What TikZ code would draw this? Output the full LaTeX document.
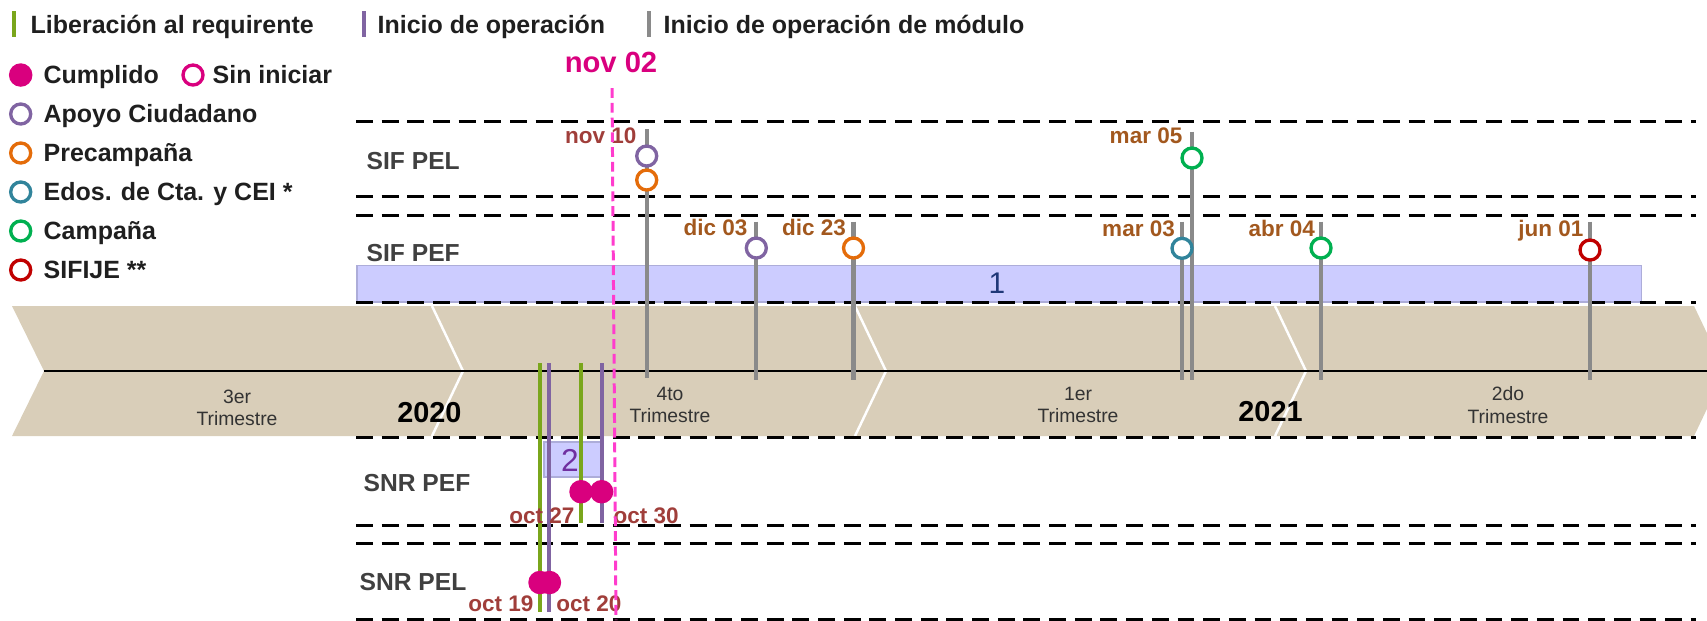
\documentclass[tikz,border=0pt]{standalone}
\usepackage{fontspec}
\setmainfont{Liberation Sans}
\usetikzlibrary{positioning,shapes.geometric}
\definecolor{cumplidoc}{RGB}{217,0,126}
\definecolor{cortec}{RGB}{255,60,205}
\definecolor{apoyoc}{RGB}{128,100,162}
\definecolor{precampc}{RGB}{228,108,10}
\definecolor{edosc}{RGB}{49,132,155}
\definecolor{campanac}{RGB}{0,176,80}
\definecolor{sifijec}{RGB}{192,0,0}
\definecolor{liberacionc}{RGB}{122,166,28}
\definecolor{moduloc}{RGB}{138,138,138}
\definecolor{arenac}{RGB}{217,206,185}
\definecolor{bandac}{RGB}{204,204,255}
\definecolor{fechac}{RGB}{162,88,30}
\definecolor{octc}{RGB}{160,62,58}
\definecolor{unoc}{RGB}{31,56,120}
\definecolor{dosc}{RGB}{112,48,160}
\tikzset{
  leyenda/.style={anchor=west, inner sep=0pt, text height=5.1pt, text depth=0pt, text=black!88, font=\fontsize{7.1}{8}\selectfont\bfseries},
  carril/.style={anchor=west, inner sep=0pt, text height=5pt, text depth=0pt, text=black!75, font=\fontsize{7}{8}\selectfont\bfseries},
  fecha/.style={inner sep=0pt, text height=4.6pt, text depth=0pt, text=fechac, font=\fontsize{6.4}{7}\selectfont\bfseries},
  trim/.style={align=center, inner sep=0pt, text=black!80, font=\fontsize{5.5}{6.4}\selectfont},
  anio/.style={inner sep=0pt, text height=5.9pt, text depth=0pt, font=\fontsize{8.2}{9}\selectfont\bfseries},
  hito/.style={circle, draw=#1, fill=white, line width=0.95pt, minimum size=2mm, inner sep=0pt},
  hecho/.style={circle, fill=cumplidoc, minimum size=2.35mm, inner sep=0pt},
  vastago/.style={draw=moduloc, line width=1.15pt},
  barra/.style={draw=#1, line width=1.15pt},
  guia/.style={draw=black, line width=0.85pt, dash pattern=on 4.8pt off 2.5pt}
}

\begin{document}
\begin{tikzpicture}[x=0.01cm, y=-0.01cm, corte/.style={draw=cortec, line width=0.85pt, dash pattern=on 2.8pt off 1.4pt}, caja/.style={draw=black!15!bandac, fill=bandac, line width=0.3pt}]
    \path[use as bounding box] (0, 0) rectangle (1707, 620);
    \clip (0, 0) rectangle (1707, 620);

    \fill[arenac] (12, 306) -- (1694, 306) -- (1725, 371) -- (1694, 436) -- (12, 436) -- (44, 371) -- cycle;
    \draw[white, line width=0.7pt] (432, 306) -- (463, 371) -- (432, 436);
    \draw[white, line width=0.7pt] (855, 306) -- (886, 371) -- (855, 436);
    \draw[white, line width=0.7pt] (1275, 306) -- (1306, 371) -- (1275, 436);
    \draw[line width=0.65pt] (44, 371) coordinate (eje0) -- (1725, 371) coordinate (eje1);

    \draw[caja] (357, 265.5) rectangle (1641, 302);
    \draw[caja] (544, 442) rectangle (601.6, 477);

    \draw[guia] (356, 121) -- (1696, 121);
    \draw[guia] (356, 196.5) -- (1696, 196.5);
    \draw[guia] (356, 215) -- (1696, 215);
    \draw[guia] (356, 302) -- (1696, 302);
    \draw[guia] (356, 437) -- (1696, 437);
    \draw[guia] (356, 525) -- (1696, 525);
    \draw[guia] (356, 543.5) -- (1696, 543.5);
    \draw[guia] (356, 619) -- (1696, 619);

    \draw[vastago] (646.7, 129) coordinate (n10t) -- (646.7, 378) coordinate (n10b);
    \draw[vastago] (756.3, 221.7) coordinate (d03t) -- (756.3, 380) coordinate (d03b);
    \draw[vastago] (853.5, 221.7) coordinate (d23t) -- (853.5, 380) coordinate (d23b);
    \draw[vastago] (1182, 221.7) coordinate (m03t) -- (1182, 380) coordinate (m03b);
    \draw[vastago] (1192, 131.7) coordinate (m05t) -- (1192, 380) coordinate (m05b);
    \draw[vastago] (1321, 221.7) coordinate (a04t) -- (1321, 380) coordinate (a04b);
    \draw[vastago] (1590, 221.7) coordinate (j01t) -- (1590, 380) coordinate (j01b);

    \draw[barra=liberacionc] (540, 363) coordinate (o19t) -- (540, 612) coordinate (o19b);
    \draw[barra=apoyoc] (549.4, 363) coordinate (o20t) -- (549.4, 612) coordinate (o20b);
    \draw[barra=liberacionc] (581, 363) coordinate (o27t) -- (581, 523) coordinate (o27b);
    \draw[barra=apoyoc] (602, 363) coordinate (o30t) -- (602, 523) coordinate (o30b);

    \node at (646.7, 156) [hito=apoyoc] (n10a) {};
    \node at (646.7, 180) [hito=precampc] (n10p) {};
    \node at (756.3, 248) [hito=apoyoc] (d03) {};
    \node at (853.5, 248) [hito=precampc] (d23) {};
    \node at (1182, 248.3) [hito=edosc] (m03) {};
    \node at (1192, 158) [hito=campanac] (m05) {};
    \node at (1321, 248) [hito=campanac] (a04) {};
    \node at (1590, 250) [hito=sifijec] (j01) {};
    \node at (581, 491.7) [hecho] (o27) {};
    \node at (601.6, 491.7) [hecho] (o30) {};
    \node at (540, 582.5) [hecho] (o19) {};
    \node at (549.4, 582.5) [hecho] (o20) {};

    \node at (637, 135) [fecha, anchor=east, text=octc] (ln10) {nov 10};
    \node at (748, 227) [fecha, anchor=east] (ld03) {dic 03};
    \node at (846.7, 227) [fecha, anchor=east] (ld23) {dic 23};
    \node at (1175.5, 228) [fecha, anchor=east] (lm03) {mar 03};
    \node at (1183, 135) [fecha, anchor=east] (lm05) {mar 05};
    \node at (1315.6, 228) [fecha, anchor=east] (la04) {abr 04};
    \node at (1584, 228) [fecha, anchor=east] (lj01) {jun 01};
    \node at (575, 515) [fecha, anchor=east, text=octc] (lo27) {oct 27};
    \node at (613, 515) [fecha, anchor=west, text=octc] (lo30) {oct 30};
    \node at (534, 603) [fecha, anchor=east, text=octc] (lo19) {oct 19};
    \node at (555.7, 603) [fecha, anchor=west, text=octc] (lo20) {oct 20};

    \node at (997, 283) [inner sep=0pt, text=unoc, font=\fontsize{8.5}{9}\selectfont] (uno) {1};
    \node at (570, 460) [inner sep=0pt, text=dosc, font=\fontsize{9}{10}\selectfont] (dos) {2};

    \node at (237, 408) [trim] (t3) {3er\\Trimestre};
    \node at (670, 405) [trim] (t4) {4to\\Trimestre};
    \node at (1078, 405) [trim] (t1) {1er\\Trimestre};
    \node at (1508, 405) [trim] (t2) {2do\\Trimestre};
    \node at (429.4, 411.7) [anio] (a20) {2020};
    \node at (1270.5, 411.5) [anio] (a21) {2021};

    \node at (366, 161) [carril] (sifpel) {SIF PEL};
    \node at (366, 253) [carril] (sifpef) {SIF PEF};
    \node at (363, 483) [carril] (snrpef) {SNR PEF};
    \node at (359, 582) [carril] (snrpel) {SNR PEL};

    \draw[barra=liberacionc] (14, 11) coordinate (bl0) -- (14, 37) coordinate (bl1);
    \node at (30, 25) [leyenda] (llib) {Liberación al requirente};
    \draw[barra=apoyoc] (364, 11) coordinate (bi0) -- (364, 37) coordinate (bi1);
    \node at (377, 25) [leyenda] (lini) {Inicio de operación};
    \draw[barra=moduloc] (649.3, 11) coordinate (bm0) -- (649.3, 37) coordinate (bm1);
    \node at (663, 25) [leyenda] (lmod) {Inicio de operación de módulo};

    \node at (20.7, 75) [hecho] (kcum) {};
    \node at (43, 75) [leyenda] (lcum) {Cumplido};
    \node at (193, 75) [hito=cumplidoc] (ksin) {};
    \node at (212, 75) [leyenda] (lsin) {Sin iniciar};
    \node at (20.7, 114) [hito=apoyoc] (kapo) {};
    \node at (43, 114) [leyenda] (lapo) {Apoyo Ciudadano};
    \node at (20.7, 153) [hito=precampc] (kpre) {};
    \node at (43, 153) [leyenda] (lpre) {Precampaña};
    \node at (20.7, 192) [hito=edosc] (keds) {};
    \node at (43, 192) [leyenda] (leds) {Edos. de Cta. y CEI *};
    \node at (20.7, 231) [hito=campanac] (kcam) {};
    \node at (43, 231) [leyenda] (lcam) {Campaña};
    \node at (20.7, 270) [hito=sifijec] (ksif) {};
    \node at (43, 270) [leyenda] (lsif) {SIFIJE **};

    \node at (611, 61.7) [anio, text=cumplidoc, font=\fontsize{8.3}{9}\selectfont\bfseries] (nov02) {nov 02};
    \draw[corte] (612, 88) coordinate (cortet) -- (616, 620) coordinate (corteb);
\end{tikzpicture}
\end{document}
